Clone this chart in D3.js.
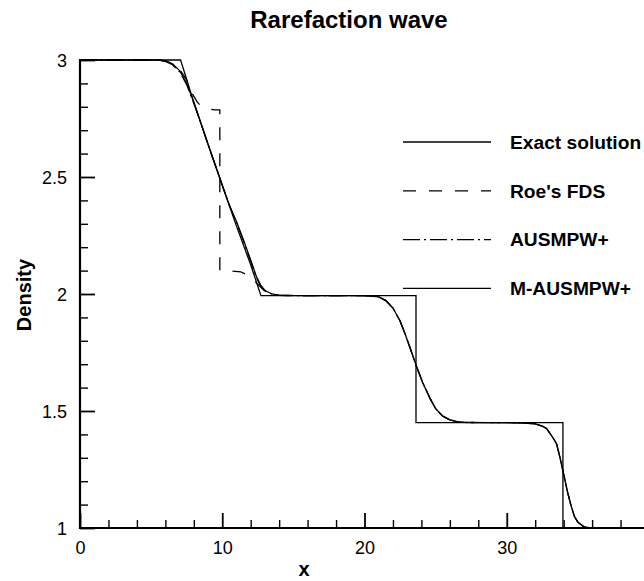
<!DOCTYPE html>
<html><head>
<meta charset="utf-8">
<script src="https://cdnjs.cloudflare.com/ajax/libs/d3/7.8.5/d3.min.js"></script>
<style>
body {
    margin: 0;
    background-color: #fff;
    font-family: "Liberation Sans", Arial, Helvetica, sans-serif;
}
svg { display: block; }
.axis path, .axis line { stroke: #000; }
.curve { fill: none; stroke: #000; stroke-width: 1.3; }
</style>
</head>
<body>
<div id="chart"></div>
<script>
// Data
const exactX   = [0, 7.07, 8, 9, 10, 11, 12, 12.72, 23.62, 23.62, 33.95, 33.95, 40];
const exactRho = [3, 3, 2.82, 2.64, 2.465, 2.29, 2.125, 1.993, 1.993, 1.45, 1.45, 1.0, 1.0];

const roeX   = [0, 5.5, 6, 6.5, 7, 7.5, 7.9, 8.25, 8.55, 9.0, 9.5, 9.83, 9.83, 10.3, 11.3, 11.8, 12.2, 12.6, 13.0, 13.5, 14, 16, 20, 21, 21.5, 22, 22.5, 22.85, 23.2, 23.66, 24.1, 24.6, 25.0, 25.5, 26, 26.5, 27, 30, 31, 32, 32.5, 32.8, 33.2, 33.5, 33.75, 34, 34.25, 34.5, 34.75, 35, 35.4, 35.9, 40];
const roeRho = [3, 3, 2.996, 2.985, 2.96, 2.915, 2.855, 2.82, 2.80, 2.79, 2.787, 2.787, 2.10, 2.10, 2.095, 2.08, 2.06, 2.035, 2.012, 1.999, 1.994, 1.993, 1.993, 1.988, 1.972, 1.94, 1.885, 1.83, 1.77, 1.69, 1.62, 1.555, 1.51, 1.478, 1.462, 1.455, 1.451, 1.45, 1.449, 1.445, 1.435, 1.425, 1.39, 1.36, 1.30, 1.23, 1.16, 1.10, 1.05, 1.025, 1.006, 1.0, 1.0];

const ausmX   = [0, 5.5, 6, 6.5, 7, 7.5, 8, 8.5, 9, 10, 10.5, 11, 11.5, 12, 12.4, 12.7, 13, 13.5, 14, 16, 20, 21, 21.5, 22, 22.5, 22.85, 23.2, 23.66, 24.1, 24.6, 25.0, 25.5, 26, 26.5, 27, 30, 31, 32, 32.5, 32.8, 33.2, 33.5, 33.75, 34, 34.25, 34.5, 34.75, 35, 35.4, 35.9, 40];
const ausmRho = [3, 3, 2.994, 2.98, 2.95, 2.895, 2.815, 2.73, 2.64, 2.465, 2.38, 2.305, 2.225, 2.14, 2.07, 2.035, 2.013, 1.999, 1.994, 1.993, 1.993, 1.988, 1.972, 1.94, 1.885, 1.83, 1.77, 1.69, 1.62, 1.555, 1.51, 1.478, 1.462, 1.455, 1.451, 1.45, 1.449, 1.445, 1.435, 1.425, 1.39, 1.36, 1.30, 1.23, 1.16, 1.10, 1.05, 1.025, 1.006, 1.0, 1.0];

const mausmX   = [0, 5.5, 6, 6.5, 7, 7.5, 8, 8.5, 9, 10, 10.5, 11, 11.5, 12, 12.4, 12.7, 13, 13.5, 14, 16, 20, 21, 21.5, 22, 22.5, 22.85, 23.2, 23.66, 24.1, 24.6, 25.0, 25.5, 26, 26.5, 27, 30, 31, 32, 32.5, 32.8, 33.2, 33.5, 33.75, 34, 34.25, 34.5, 34.75, 35, 35.4, 35.9, 40];
const mausmRho = [3, 3, 2.996, 2.984, 2.955, 2.9, 2.82, 2.73, 2.64, 2.465, 2.378, 2.31, 2.23, 2.145, 2.075, 2.038, 2.015, 2.0, 1.994, 1.993, 1.993, 1.988, 1.972, 1.94, 1.885, 1.83, 1.77, 1.69, 1.62, 1.555, 1.51, 1.478, 1.462, 1.455, 1.451, 1.45, 1.449, 1.445, 1.435, 1.425, 1.39, 1.36, 1.30, 1.23, 1.16, 1.10, 1.05, 1.025, 1.006, 1.0, 1.0];

const legendLabels = ["Exact solution", "Roe's FDS", "AUSMPW+", "M-AUSMPW+"];
const xTicks = [0, 10, 20, 30];
const yTicks = [1, 1.5, 2, 2.5, 3];

const width = 644, height = 581;

const svg = d3.select("#chart").append("svg")
    .attr("width", width)
    .attr("height", height);

const x = d3.scaleLinear().domain([0, 40]).range([80, 649]);
const y = d3.scaleLinear().domain([1, 3]).range([528, 60]);

// minor ticks
const xMinor = d3.range(0, 40.01, 2).filter(v => v % 10 !== 0);
const yMinor = d3.range(10, 30.01, 1).map(v => v / 10).filter(v => Math.round(v * 10) % 5 !== 0);

svg.append("g").attr("class", "axis")
    .attr("transform", `translate(0,${y(1)})`)
    .call(d3.axisTop(x).tickValues(xMinor).tickSize(8).tickFormat(""))
    .call(g => g.select(".domain").remove())
    .selectAll("line").attr("stroke-width", 1.4);

svg.append("g").attr("class", "axis")
    .attr("transform", `translate(${x(0)},0)`)
    .call(d3.axisRight(y).tickValues(yMinor).tickSize(8).tickFormat(""))
    .call(g => g.select(".domain").remove())
    .selectAll("line").attr("stroke-width", 1.4);

// major ticks + labels
const xAxis = svg.append("g").attr("class", "axis")
    .attr("transform", `translate(0,${y(1)})`)
    .call(d3.axisTop(x).tickValues(xTicks).tickSize(15).tickFormat(d3.format("d")));
xAxis.select(".domain").remove();
xAxis.selectAll("line").attr("stroke-width", 1.8);
xAxis.selectAll("text")
    .attr("y", 26)
    .attr("font-size", 18)
    .attr("font-family", "Liberation Sans, Arial, sans-serif")
    .attr("fill", "#000");

const yAxis = svg.append("g").attr("class", "axis")
    .attr("transform", `translate(${x(0)},0)`)
    .call(d3.axisRight(y).tickValues(yTicks).tickSize(15).tickFormat(d => d));
yAxis.select(".domain").remove();
yAxis.selectAll("line").attr("stroke-width", 1.8);
yAxis.selectAll("text")
    .attr("x", -13)
    .attr("dy", "0.35em")
    .attr("text-anchor", "end")
    .attr("font-size", 18)
    .attr("font-family", "Liberation Sans, Arial, sans-serif")
    .attr("fill", "#000");

// axis lines
svg.append("line")
    .attr("x1", x(0)).attr("x2", width)
    .attr("y1", y(1)).attr("y2", y(1))
    .attr("stroke", "#000").attr("stroke-width", 2.2);
svg.append("line")
    .attr("x1", x(0)).attr("x2", x(0))
    .attr("y1", y(3) - 1).attr("y2", y(1) + 1)
    .attr("stroke", "#000").attr("stroke-width", 2.2);

// curves
const line = d3.line()
    .x(d => x(d[0]))
    .y(d => y(d[1]));

const series = [
    {xs: exactX, ys: exactRho, dash: null, w: 1.2},
    {xs: roeX, ys: roeRho, dash: "13,13", w: 1.2},
    {xs: ausmX, ys: ausmRho, dash: "17,4,2,4", w: 1.2},
    {xs: mausmX, ys: mausmRho, dash: null, w: 1.3}
];

svg.append("defs").append("clipPath").attr("id", "plot")
    .append("rect").attr("x", x(0)).attr("y", 0).attr("width", width).attr("height", y(1));

series.forEach(s => {
    svg.append("path")
        .datum(s.xs.map((v, i) => [v, s.ys[i]]))
        .attr("class", "curve")
        .attr("clip-path", "url(#plot)")
        .attr("stroke-width", s.w)
        .attr("stroke-dasharray", s.dash)
        .attr("d", line);
});

// legend
const legend = svg.append("g").attr("transform", "translate(403,142)");
legendLabels.forEach((lab, i) => {
    const ly = i * 48.8;
    legend.append("line")
        .attr("x1", 0).attr("x2", 88)
        .attr("y1", ly).attr("y2", ly)
        .attr("stroke", "#000").attr("stroke-width", 1.3)
        .attr("stroke-dasharray", series[i].dash);
    legend.append("text")
        .attr("x", 107).attr("y", ly)
        .attr("dy", "0.35em")
        .attr("font-size", 19.2)
        .attr("font-weight", "bold")
        .text(lab);
});

// titles
svg.append("text")
    .attr("x", 349).attr("y", 28)
    .attr("text-anchor", "middle")
    .attr("font-size", 24)
    .attr("font-weight", "bold")
    .text("Rarefaction wave");

svg.append("text")
    .attr("x", 304).attr("y", 576)
    .attr("text-anchor", "middle")
    .attr("font-size", 20)
    .attr("font-weight", "bold")
    .text("x");

svg.append("text")
    .attr("transform", "translate(31,295) rotate(-90)")
    .attr("text-anchor", "middle")
    .attr("font-size", 20)
    .attr("font-weight", "bold")
    .text("Density");
</script>
</body></html>
